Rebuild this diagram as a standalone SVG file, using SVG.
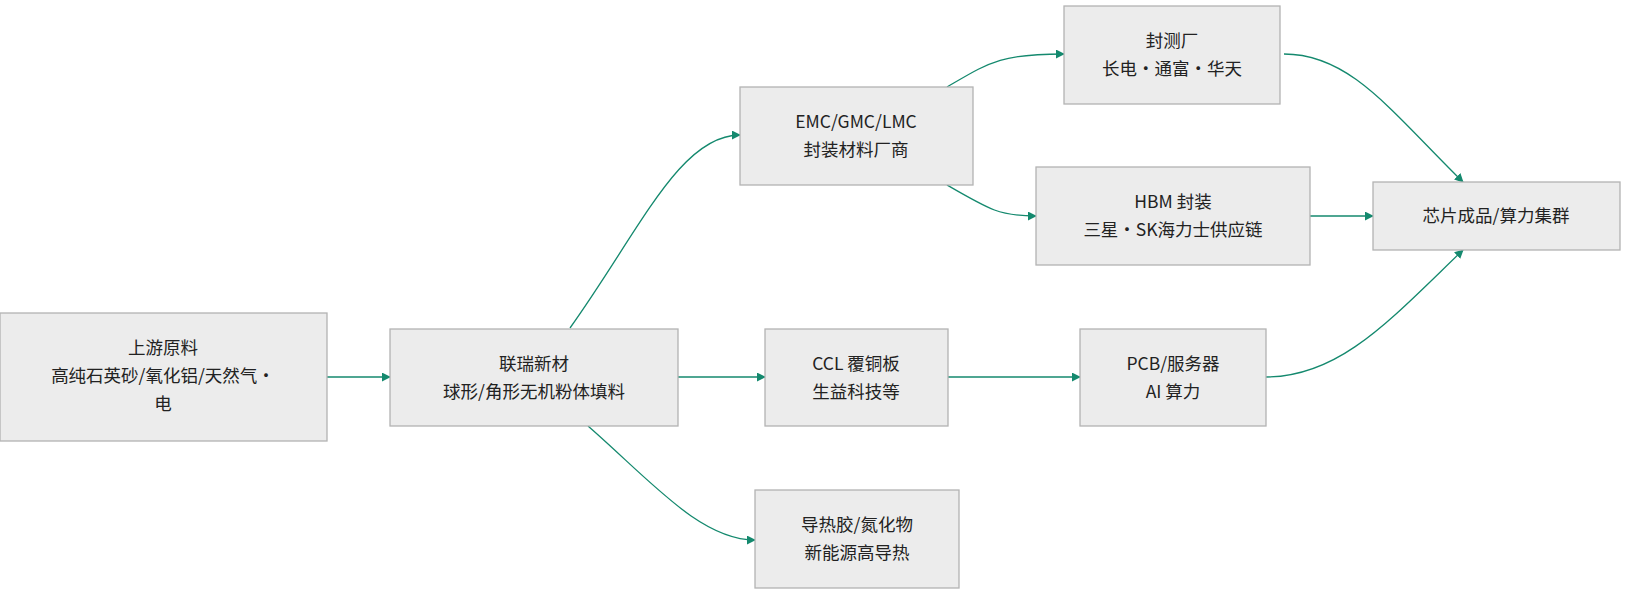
<svg xmlns="http://www.w3.org/2000/svg" width="1628" height="600" viewBox="0 0 1628 600">
<style>
.n rect{fill:#ececec;stroke:#b3b3b3;stroke-width:1.3}
text{font-family:"Noto Sans CJK SC","Liberation Sans",sans-serif;font-size:17.5px;fill:#222;text-anchor:middle}
.c path{fill:none;stroke:#14896e;stroke-width:1.3;marker-end:url(#a)}
</style>
<defs><marker id="a" viewBox="0 0 10 10" refX="9" refY="5" markerWidth="9" markerHeight="9" markerUnits="userSpaceOnUse" orient="auto"><path d="M0,0L10,5L0,10z" fill="#14896e"/></marker></defs>
<rect width="1628" height="600" fill="#fff"/>
<g class="c">
<path d="M327,377H390"/>
<path d="M570,328C640,230 680,135 740,135"/>
<path d="M678,377H765"/>
<path d="M588,426C650,480 700,540 755,540"/>
<path d="M947,87C990,62 1000,54 1064,54"/>
<path d="M947,185C990,210 1000,216 1036,216"/>
<path d="M1284,54C1350,54 1390,110 1463,182"/>
<path d="M1310,216H1373"/>
<path d="M948,377H1080"/>
<path d="M1266,377C1340,377 1390,320 1463,250"/>
</g>
<g id="n1" class="n"><rect x="0" y="313" width="327" height="128"/><text x="163" y="354">上游原料</text><text x="163" y="382">高纯石英砂/氧化铝/天然气·</text><text x="163" y="410">电</text></g>
<g id="n2" class="n"><rect x="390" y="329" width="288" height="97"/><text x="534" y="370">联瑞新材</text><text x="534" y="398">球形/角形无机粉体填料</text></g>
<g id="n3" class="n"><rect x="740" y="87" width="233" height="98"/><text x="856" y="128">EMC/GMC/LMC</text><text x="856" y="156">封装材料厂商</text></g>
<g id="n4" class="n"><rect x="1064" y="6" width="216" height="98"/><text x="1172" y="47">封测厂</text><text x="1172" y="75">长电·通富·华天</text></g>
<g id="n5" class="n"><rect x="1036" y="167" width="274" height="98"/><text x="1173" y="208">HBM 封装</text><text x="1173" y="236">三星·SK海力士供应链</text></g>
<g id="n6" class="n"><rect x="1373" y="182" width="247" height="68"/><text x="1496" y="222">芯片成品/算力集群</text></g>
<g id="n7" class="n"><rect x="765" y="329" width="183" height="97"/><text x="856" y="370">CCL 覆铜板</text><text x="856" y="398">生益科技等</text></g>
<g id="n8" class="n"><rect x="1080" y="329" width="186" height="97"/><text x="1173" y="370">PCB/服务器</text><text x="1173" y="398">AI 算力</text></g>
<g id="n9" class="n"><rect x="755" y="490" width="204" height="98"/><text x="857" y="531">导热胶/氮化物</text><text x="857" y="559">新能源高导热</text></g>
</svg>
